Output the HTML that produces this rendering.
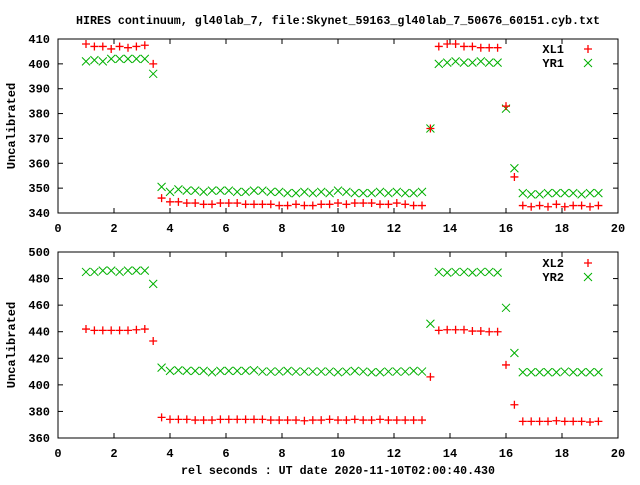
<!DOCTYPE html>
<html><head><meta charset="utf-8"><style>
html,body{margin:0;padding:0;background:#fff}
svg text{font-family:"Liberation Mono","DejaVu Sans Mono",monospace;font-weight:bold;font-size:12px;fill:#000}
</style></head><body>
<svg id="chart" width="640" height="480" viewBox="0 0 640 480" xmlns="http://www.w3.org/2000/svg">
<text x="76" y="24" textLength="524" lengthAdjust="spacingAndGlyphs">HIRES continuum, gl40lab_7, file:Skynet_59163_gl40lab_7_50676_60151.cyb.txt</text>
<text x="181" y="474" textLength="314" lengthAdjust="spacingAndGlyphs">rel seconds : UT date 2020-11-10T02:00:40.430</text>
<g id="g"></g>
</svg>
<script>
const xTicks=[0,2,4,6,8,10,12,14,16,18,20];
const yTicksTop=[340,350,360,370,380,390,400,410];
const yTicksBot=[360,380,400,420,440,460,480,500];
const times=[1.0,1.3,1.6,1.9,2.2,2.5,2.8,3.1,3.4,
3.7,4.0,4.3,4.6,4.9,5.2,5.5,5.8,6.1,6.4,6.7,7.0,7.3,7.6,7.9,8.2,8.5,8.8,9.1,9.4,9.7,10.0,10.3,10.6,10.9,11.2,11.5,11.8,12.1,12.4,12.7,13.0,
13.3,13.6,13.9,14.2,14.5,14.8,15.1,15.4,15.7,16.0,16.3,
16.6,16.9,17.2,17.5,17.8,18.1,18.4,18.7,19.0,19.3];
const xl1=[408,407,407,406,407,406.5,407,407.5,400,
346,344.5,344.5,344,344,343.5,343.5,344,344,344,343.5,343.5,343.5,343.5,343,343,343.5,343,343,343.5,343.5,344,343.5,344,344,344,343.5,343.5,344,343.5,343,343,
374,407,408,408,407,407,406.5,406.5,406.5,383,354.5,
343,342.5,343,342.5,343.5,342.5,343,343,342.5,343];
const yr1=[401,401.5,401,402,402,402,402,402,396,
350.5,348.5,349.5,349,349,348.5,349,349,349,348.5,348.5,349,349,348.5,348.5,348,348,348.5,348,348.5,348,349,348.5,348,348,348,348.5,348,348.5,348,348,348.5,
374,400,400.5,401,400.5,400.5,401,400.5,400.5,382,358,
348,347.5,347.5,348,348,348,348,347.5,348,348];
const xl2=[442,441,441,441,441,441,441.5,442,433,
375.5,374,374,374,373.5,373.5,373.5,374,374,374,374,374,374,373.5,373.5,373.5,373.5,373,373.5,373.5,374,373.5,373.5,374,373.5,373.5,374,373.5,373.5,373.5,373.5,373.5,
406,441,441.5,441.5,441.5,440.5,440.5,440,440,415,385,
372.5,372.5,372.5,372.5,373,372.5,372.5,372.5,372,372.5];
const yr2=[485,485,486,486,485,486,486,486,476,
413,410.5,411,410.5,410.5,410.5,409.5,410.5,410.5,410.5,410.5,411,410,410,410,410.5,410,410,410,410,410,409.5,410,410.5,410,409.5,409.5,410,410,410,410.5,410,
446,485,484.5,485,485,484.5,485,485,484.5,458,424,
409.5,409.5,409.5,409.5,409.5,410,409.5,409.5,409.5,409.5];

const NS='http://www.w3.org/2000/svg';
const root=document.getElementById('g');
function mk(tag,attrs,parent){const e=document.createElementNS(NS,tag);for(const k in attrs)e.setAttribute(k,attrs[k]);(parent||root).appendChild(e);return e;}
const L=58,R=618;
const sx=v=>L+(v-0)/(20-0)*(R-L);
function panel(top,bot,ymin,ymax,yTicks,sA,sB,nameA,nameB,legY,pname){
  const g=mk('g',{});
  
  
  const sy=v=>bot-(v-ymin)/(ymax-ymin)*(bot-top);
  const ax=mk('rect',{x:L,y:top,width:R-L,height:bot-top,fill:'none',stroke:'#000','stroke-width':1},g);
  
  
  xTicks.forEach(t=>{
    const x=sx(t);
    mk('line',{x1:x,y1:bot,x2:x,y2:bot-5,stroke:'#000'},g);
    mk('line',{x1:x,y1:top,x2:x,y2:top+5,stroke:'#000'},g);
    const tx=mk('text',{x:x,y:bot+19,'text-anchor':'middle'},g);
    
    
    tx.textContent=t;
  });
  yTicks.forEach(t=>{
    const y=sy(t);
    mk('line',{x1:L,y1:y,x2:L+5,y2:y,stroke:'#000'},g);
    mk('line',{x1:R,y1:y,x2:R-5,y2:y,stroke:'#000'},g);
    const tx=mk('text',{x:50,y:y+4,'text-anchor':'end'},g);
    
    
    tx.textContent=t;
  });
  const yt=mk('text',{x:0,y:0,'text-anchor':'middle',transform:`translate(15,${(top+bot)/2}) rotate(-90)`},g);
  
  
  yt.textContent='Uncalibrated';
  function plus(x,y,parent){mk('path',{d:`M${x-4},${y}H${x+4}M${x},${y-4}V${y+4}`,stroke:'#ff0000','stroke-width':1.3,fill:'none'},parent);}
  function cross(x,y,parent){mk('path',{d:`M${x-4},${y-4}L${x+4},${y+4}M${x-4},${y+4}L${x+4},${y-4}`,stroke:'#00b000','stroke-width':1,fill:'none'},parent);}
  const gb=mk('g',{},g);
  
  
  sB.forEach((v,i)=>cross(sx(times[i]),sy(v),gb));
  const ga=mk('g',{},g);
  
  
  sA.forEach((v,i)=>plus(sx(times[i]),sy(v),ga));
  const la=mk('text',{x:564,y:legY+4,'text-anchor':'end'},g);
  
  
  la.textContent=nameA;
  plus(588,legY,g);
  const lb=mk('text',{x:564,y:legY+18,'text-anchor':'end'},g);
  
  
  lb.textContent=nameB;
  cross(588,legY+14,g);
}
panel(39,213,340,410,yTicksTop,xl1,yr1,'XL1','YR1',49,'top-panel');
panel(252,438,360,500,yTicksBot,xl2,yr2,'XL2','YR2',263,'bottom-panel');
</script>
</body></html>
